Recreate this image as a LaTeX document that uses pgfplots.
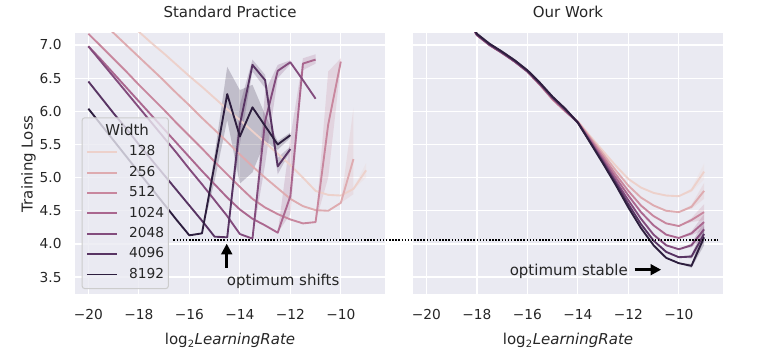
\documentclass[border=0pt]{standalone}
\usepackage{pgfplots}
\pgfplotsset{compat=1.18}
\usepackage{fontspec}
\setmainfont{DejaVu Sans}
\usetikzlibrary{arrows.meta}
\definecolor{bg}{HTML}{EAEAF2}
\definecolor{txt}{HTML}{262626}
\definecolor{lgray}{HTML}{CCCCCC}
\definecolor{c128}{RGB}{237,209,203}
\definecolor{c256}{RGB}{222,171,176}
\definecolor{c512}{RGB}{200,135,158}
\definecolor{c1024}{RGB}{170,103,143}
\definecolor{c2048}{RGB}{131,76,125}
\definecolor{c4096}{RGB}{88,52,99}
\definecolor{c8192}{RGB}{45,30,62}
\pgfplotsset{
  L/.style={color=#1, line width=1.5pt, line join=round},
  B/.style={fill=#1, fill opacity=0.22, draw=none, forget plot},
  panel/.style={
    scale only axis, width=248pt, height=209.2pt,
    anchor=south west,
    xmin=-20.53, xmax=-8.25, ymin=3.238, ymax=7.181,
    axis background/.style={fill=bg},
    axis line style={draw=none},
    major tick length=0pt, tick style={draw=none},
    grid=major, grid style={white, line width=1pt},
    xtick={-20,-18,-16,-14,-12,-10},
    xticklabels={−20,−18,−16,−14,−12,−10},
    ytick={3.5,4,4.5,5,5.5,6,6.5,7},
    yticklabels={3.5,4.0,4.5,5.0,5.5,6.0,6.5,7.0},
    tick label style={font=\fontsize{11}{13}\selectfont, text=txt},
    xticklabel style={anchor=north, inner sep=0pt, yshift=-11.6pt},
    yticklabel style={anchor=east, inner sep=0pt, xshift=-10.6pt},
    title style={at={(axis description cs:0.5,1.0306)}, anchor=base, inner sep=0pt, font=\fontsize{12}{14}\selectfont, text=txt},
    xlabel style={at={(axis description cs:0.5,-0.1931)}, anchor=base, inner sep=0pt, font=\fontsize{12}{14}\selectfont, text=txt},
    ylabel style={at={(axis description cs:-0.1365,0.5)}, anchor=base, inner sep=0pt, font=\fontsize{12}{14}\selectfont, text=txt},
    xlabel={log\textsubscript{2}\textit{LearningRate}},
    legend image code/.code={\draw[#1, line width=1.5pt] (0pt,0pt) -- (24pt,0pt);},
  }
}
\begin{document}
\begin{tikzpicture}
\path[use as bounding box] (0,0) rectangle (614.4pt,288pt);
% ---------------- left panel ----------------
\begin{axis}[panel, at={(60pt,52.4pt)},
  title={Standard Practice}, ylabel={Training Loss},
  legend cell align=left,
  legend style={at={(0.0216,0.6776)}, anchor=north west,
    fill=bg, fill opacity=0.8, draw opacity=1, text opacity=1,
    draw=lgray, line width=0.8pt, rounded corners=2pt,
    inner xsep=3.4pt, inner ysep=6pt, row sep=5.8pt,
    font=\fontsize{11}{13}\selectfont, text=txt,
    nodes={inner sep=0pt, text height=8.2pt, text depth=2.3pt},
    /tikz/every odd column/.append style={column sep=8.6pt}},
]
% error bands
\addplot[B=c8192] coordinates {(-15.5,4.16)(-15,5.35)(-14.5,6.67)(-14,6.32)(-13.5,6.40)(-13,5.95)(-12.5,5.55)(-12,5.68)(-12,5.60)(-12.5,5.42)(-13,5.55)(-13.5,5.08)(-14,4.91)(-14.5,5.87)(-15,4.95)(-15.5,4.16)} -- cycle;
\addplot[B=c4096] coordinates {(-14.5,4.10)(-14,6.1)(-13.5,6.78)(-13,6.55)(-12.5,5.3)(-12,5.47)(-12,5.40)(-12.5,5.05)(-13,6.35)(-13.5,6.60)(-14,5.5)(-14.5,4.10)} -- cycle;
\addplot[B=c2048] coordinates {(-13.5,4.08)(-13,6.3)(-12.5,6.7)(-12,6.77)(-12,6.71)(-12.5,6.5)(-13,5.2)(-13.5,4.08)} -- cycle;
\addplot[B=c1024] coordinates {(-12.5,4.17)(-12,5.6)(-11.5,6.8)(-11,6.86)(-11,6.72)(-11.5,6.62)(-12,4.45)(-12.5,4.17)} -- cycle;
\addplot[B=c512] coordinates {(-11,4.33)(-10.5,6.6)(-10,6.8)(-10,6.7)(-10.5,5.0)(-11,4.33)} -- cycle;
\addplot[B=c256] coordinates {(-10,4.62)(-9.5,6.05)(-9.5,4.75)(-10,4.62)} -- cycle;
\addplot[B=c128] coordinates {(-9.5,4.84)(-9,5.22)(-9,5.0)(-9.5,4.82)} -- cycle;
% legend title
\addlegendimage{empty legend}
\addlegendentry{\fontsize{12}{14}\selectfont\hspace*{-19pt}Width}
\addplot[L=c128] coordinates {(-20,7.85)(-19.5,7.68)(-19,7.52)(-18.5,7.36)(-18,7.2)(-17.5,7.03)(-17,6.87)(-16.5,6.70)(-16,6.53)(-15.5,6.37)(-15,6.20)(-14.5,6.03)(-14,5.87)(-13.5,5.70)(-13,5.53)(-12.5,5.36)(-12,5.19)(-11.5,5.0)(-11,4.8)(-10.5,4.74)(-10,4.73)(-9.5,4.83)(-9,5.11)};
\addlegendentry{128}
\addplot[L=c256] coordinates {(-20,7.55)(-19.5,7.37)(-19,7.18)(-18.5,7.0)(-18,6.82)(-17.5,6.64)(-17,6.46)(-16.5,6.27)(-16,6.09)(-15.5,5.9)(-15,5.72)(-14.5,5.54)(-14,5.35)(-13.5,5.17)(-13,5.0)(-12.5,4.84)(-12,4.68)(-11.5,4.57)(-11,4.51)(-10.5,4.5)(-10,4.62)(-9.5,5.28)};
\addlegendentry{256}
\addplot[L=c512] coordinates {(-20,7.17)(-19.5,6.98)(-19,6.79)(-18.5,6.6)(-18,6.4)(-17.5,6.21)(-17,6.02)(-16.5,5.82)(-16,5.63)(-15.5,5.44)(-15,5.24)(-14.5,5.05)(-14,4.86)(-13.5,4.68)(-13,4.55)(-12.5,4.45)(-12,4.37)(-11.5,4.31)(-11,4.33)(-10.5,5.8)(-10,6.75)};
\addlegendentry{512}
\addplot[L=c1024] coordinates {(-20,6.98)(-19.5,6.78)(-19,6.57)(-18.5,6.36)(-18,6.15)(-17.5,5.94)(-17,5.73)(-16.5,5.52)(-16,5.31)(-15.5,5.1)(-15,4.9)(-14.5,4.7)(-14,4.52)(-13.5,4.38)(-13,4.28)(-12.5,4.17)(-12,4.72)(-11.5,6.72)(-11,6.78)};
\addlegendentry{1024}
\addplot[L=c2048] coordinates {(-20,6.98)(-19.5,6.75)(-19,6.52)(-18.5,6.29)(-18,6.06)(-17.5,5.83)(-17,5.6)(-16.5,5.37)(-16,5.13)(-15.5,4.9)(-15,4.66)(-14.5,4.42)(-14,4.15)(-13.5,4.08)(-13,5.85)(-12.5,6.61)(-12,6.74)(-11.5,6.47)(-11,6.19)};
\addlegendentry{2048}
\addplot[L=c4096] coordinates {(-20,6.45)(-19.5,6.21)(-19,5.97)(-18.5,5.74)(-18,5.5)(-17.5,5.27)(-17,5.04)(-16.5,4.81)(-16,4.58)(-15.5,4.35)(-15,4.11)(-14.5,4.10)(-14,5.8)(-13.5,6.70)(-13,6.47)(-12.5,5.17)(-12,5.43)};
\addlegendentry{4096}
\addplot[L=c8192] coordinates {(-20,6.04)(-19.5,5.8)(-19,5.56)(-18.5,5.32)(-18,5.08)(-17.5,4.84)(-17,4.6)(-16.5,4.36)(-16,4.13)(-15.5,4.16)(-15,5.2)(-14.5,6.26)(-14,5.62)(-13.5,6.06)(-13,5.78)(-12.5,5.50)(-12,5.64)};
\addlegendentry{8192}
\draw[black, line width=2.6pt, -{Triangle[width=8.5pt,length=8.5pt]}] (axis cs:-14.52,3.642) -- (axis cs:-14.52,4.005);
\node[anchor=west, inner sep=0pt, font=\fontsize{12}{14}\selectfont, text=txt] at (axis cs:-14.52,3.44) {optimum shifts};
\coordinate (dl) at (axis cs:-16.63,4.054);
\end{axis}
% ---------------- right panel ----------------
\begin{axis}[panel, at={(330.4pt,52.4pt)},
  title={Our Work}, yticklabels={},
]
\addplot[B=c128] coordinates {(-10,4.72)(-9.5,4.84)(-9,5.21)(-9,4.97)(-9.5,4.78)(-10,4.72)} -- cycle;
\addplot[B=c256] coordinates {(-10,4.48)(-9.5,4.59)(-9,4.92)(-9,4.68)(-9.5,4.53)(-10,4.48)} -- cycle;
\addplot[B=c512] coordinates {(-10,4.27)(-9.5,4.39)(-9,4.60)(-9,4.36)(-9.5,4.33)(-10,4.27)} -- cycle;
\addplot[B=c1024] coordinates {(-10,4.09)(-9.5,4.19)(-9,4.45)(-9,4.21)(-9.5,4.13)(-10,4.09)} -- cycle;
\addplot[B=c2048] coordinates {(-10,3.92)(-9.5,4.01)(-9,4.34)(-9,4.10)(-9.5,3.95)(-10,3.92)} -- cycle;
\addplot[B=c4096] coordinates {(-10,3.80)(-9.5,3.84)(-9,4.27)(-9,4.03)(-9.5,3.78)(-10,3.80)} -- cycle;
\addplot[B=c8192] coordinates {(-10,3.71)(-9.5,3.70)(-9,4.22)(-9,3.98)(-9.5,3.64)(-10,3.71)} -- cycle;
\addplot[L=c128] coordinates {(-20,8.3)(-19.5,8.05)(-19,7.8)(-18.5,7.5)(-18,7.15)(-17.5,7.0)(-17,6.88)(-16.5,6.75)(-16,6.6)(-15.5,6.4)(-15,6.18)(-14.5,6.0)(-14,5.85)(-13.5,5.62)(-13,5.40)(-12.5,5.18)(-12,4.98)(-11.5,4.85)(-11,4.77)(-10.5,4.73)(-10,4.72)(-9.5,4.81)(-9,5.09)};
\addplot[L=c256] coordinates {(-20,8.3)(-19.5,8.05)(-19,7.8)(-18.5,7.5)(-18,7.15)(-17.5,7.0)(-17,6.88)(-16.5,6.75)(-16,6.6)(-15.5,6.4)(-15,6.18)(-14.5,6.0)(-14,5.84)(-13.5,5.60)(-13,5.36)(-12.5,5.11)(-12,4.88)(-11.5,4.70)(-11,4.58)(-10.5,4.50)(-10,4.48)(-9.5,4.56)(-9,4.80)};
\addplot[L=c512] coordinates {(-20,8.3)(-19.5,8.05)(-19,7.8)(-18.5,7.5)(-18,7.15)(-17.5,7.0)(-17,6.88)(-16.5,6.75)(-16,6.6)(-15.5,6.4)(-15,6.18)(-14.5,6.0)(-14,5.84)(-13.5,5.58)(-13,5.32)(-12.5,5.05)(-12,4.80)(-11.5,4.58)(-11,4.42)(-10.5,4.31)(-10,4.27)(-9.5,4.36)(-9,4.48)};
\addplot[L=c1024] coordinates {(-20,8.3)(-19.5,8.05)(-19,7.8)(-18.5,7.5)(-18,7.15)(-17.5,7.0)(-17,6.88)(-16.5,6.75)(-16,6.6)(-15.5,6.4)(-15,6.19)(-14.5,6.01)(-14,5.83)(-13.5,5.56)(-13,5.28)(-12.5,5.0)(-12,4.73)(-11.5,4.48)(-11,4.28)(-10.5,4.14)(-10,4.09)(-9.5,4.16)(-9,4.33)};
\addplot[L=c2048] coordinates {(-20,8.3)(-19.5,8.05)(-19,7.8)(-18.5,7.5)(-18,7.15)(-17.5,7.0)(-17,6.88)(-16.5,6.75)(-16,6.6)(-15.5,6.41)(-15,6.20)(-14.5,6.02)(-14,5.83)(-13.5,5.54)(-13,5.25)(-12.5,4.95)(-12,4.66)(-11.5,4.38)(-11,4.14)(-10.5,3.98)(-10,3.92)(-9.5,3.98)(-9,4.22)};
\addplot[L=c4096] coordinates {(-20,8.3)(-19.5,8.05)(-19,7.8)(-18.5,7.5)(-18,7.16)(-17.5,7.01)(-17,6.89)(-16.5,6.76)(-16,6.61)(-15.5,6.42)(-15,6.21)(-14.5,6.03)(-14,5.83)(-13.5,5.53)(-13,5.23)(-12.5,4.92)(-12,4.60)(-11.5,4.30)(-11,4.05)(-10.5,3.88)(-10,3.80)(-9.5,3.81)(-9,4.15)};
\addplot[L=c8192] coordinates {(-20,8.3)(-19.5,8.05)(-19,7.8)(-18.5,7.5)(-18,7.17)(-17.5,7.02)(-17,6.90)(-16.5,6.77)(-16,6.62)(-15.5,6.43)(-15,6.22)(-14.5,6.04)(-14,5.83)(-13.5,5.52)(-13,5.21)(-12.5,4.89)(-12,4.55)(-11.5,4.24)(-11,3.98)(-10.5,3.79)(-10,3.71)(-9.5,3.67)(-9,4.10)};
\draw[black, line width=2.6pt, -{Triangle[width=8.5pt,length=8.5pt]}] (axis cs:-11.75,3.612) -- (axis cs:-10.70,3.612);
\node[anchor=east, inner sep=0pt, font=\fontsize{12}{14}\selectfont, text=txt] at (axis cs:-12.01,3.59) {optimum stable};
\coordinate (dr) at (axis cs:-8.43,4.054);
\end{axis}
\draw[black, line width=1.5pt, dash pattern=on 1.2pt off 1.3pt] (dl) -- (dr);
\end{tikzpicture}
\end{document}
